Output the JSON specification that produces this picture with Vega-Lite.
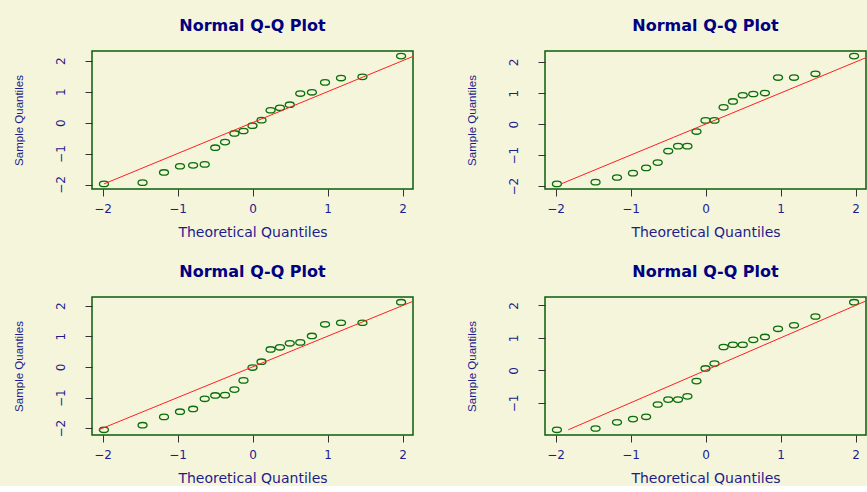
{
  "$schema": "https://vega.github.io/schema/vega-lite/v6.json",
  "padding": {"left": 12, "top": 17, "right": 0, "bottom": 0},
  "background": "#f5f5dc",
  "columns": 2,
  "bounds": "flush",
  "spacing": {"row": 108, "column": 132},
  "datasets": {
    "pts": [
      {"p":1,"x":-1.981,"y":-1.98},{"p":1,"x":-1.466,"y":-1.94},{"p":1,"x":-1.18,"y":-1.61},{"p":1,"x":-0.967,"y":-1.41},{"p":1,"x":-0.792,"y":-1.38},{"p":1,"x":-0.637,"y":-1.35},{"p":1,"x":-0.497,"y":-0.81},{"p":1,"x":-0.366,"y":-0.63},{"p":1,"x":-0.241,"y":-0.35},{"p":1,"x":-0.12,"y":-0.27},{"p":1,"x":0,"y":-0.1},{"p":1,"x":0.12,"y":0.08},{"p":1,"x":0.241,"y":0.4},{"p":1,"x":0.366,"y":0.48},{"p":1,"x":0.497,"y":0.58},{"p":1,"x":0.637,"y":0.94},{"p":1,"x":0.792,"y":0.98},{"p":1,"x":0.967,"y":1.3},{"p":1,"x":1.18,"y":1.44},{"p":1,"x":1.466,"y":1.48},{"p":1,"x":1.981,"y":2.15},
      {"p":2,"x":-1.981,"y":-1.925},{"p":2,"x":-1.466,"y":-1.87},{"p":2,"x":-1.18,"y":-1.72},{"p":2,"x":-0.967,"y":-1.58},{"p":2,"x":-0.792,"y":-1.41},{"p":2,"x":-0.637,"y":-1.24},{"p":2,"x":-0.497,"y":-0.87},{"p":2,"x":-0.366,"y":-0.71},{"p":2,"x":-0.241,"y":-0.71},{"p":2,"x":-0.12,"y":-0.24},{"p":2,"x":0,"y":0.12},{"p":2,"x":0.12,"y":0.12},{"p":2,"x":0.241,"y":0.54},{"p":2,"x":0.366,"y":0.73},{"p":2,"x":0.497,"y":0.93},{"p":2,"x":0.637,"y":0.97},{"p":2,"x":0.792,"y":1.0},{"p":2,"x":0.967,"y":1.5},{"p":2,"x":1.18,"y":1.5},{"p":2,"x":1.466,"y":1.62},{"p":2,"x":1.981,"y":2.19},
      {"p":3,"x":-1.981,"y":-2.05},{"p":3,"x":-1.466,"y":-1.9},{"p":3,"x":-1.18,"y":-1.63},{"p":3,"x":-0.967,"y":-1.46},{"p":3,"x":-0.792,"y":-1.37},{"p":3,"x":-0.637,"y":-1.04},{"p":3,"x":-0.497,"y":-0.93},{"p":3,"x":-0.366,"y":-0.92},{"p":3,"x":-0.241,"y":-0.74},{"p":3,"x":-0.12,"y":-0.44},{"p":3,"x":0,"y":-0.02},{"p":3,"x":0.12,"y":0.17},{"p":3,"x":0.241,"y":0.57},{"p":3,"x":0.366,"y":0.64},{"p":3,"x":0.497,"y":0.77},{"p":3,"x":0.637,"y":0.8},{"p":3,"x":0.792,"y":1.01},{"p":3,"x":0.967,"y":1.39},{"p":3,"x":1.18,"y":1.44},{"p":3,"x":1.466,"y":1.44},{"p":3,"x":1.981,"y":2.11},
      {"p":4,"x":-1.981,"y":-1.83},{"p":4,"x":-1.466,"y":-1.79},{"p":4,"x":-1.18,"y":-1.6},{"p":4,"x":-0.967,"y":-1.5},{"p":4,"x":-0.792,"y":-1.43},{"p":4,"x":-0.637,"y":-1.05},{"p":4,"x":-0.497,"y":-0.9},{"p":4,"x":-0.366,"y":-0.9},{"p":4,"x":-0.241,"y":-0.8},{"p":4,"x":-0.12,"y":-0.33},{"p":4,"x":0,"y":0.06},{"p":4,"x":0.12,"y":0.21},{"p":4,"x":0.241,"y":0.72},{"p":4,"x":0.366,"y":0.79},{"p":4,"x":0.497,"y":0.79},{"p":4,"x":0.637,"y":0.94},{"p":4,"x":0.792,"y":1.03},{"p":4,"x":0.967,"y":1.28},{"p":4,"x":1.18,"y":1.39},{"p":4,"x":1.466,"y":1.66},{"p":4,"x":1.981,"y":2.1}
    ],
    "ln": [
      {"p":1,"x":-1.98,"y":-1.98},{"p":1,"x":2.4,"y":2.4},
      {"p":2,"x":-1.93,"y":-1.93},{"p":2,"x":2.4,"y":2.4},
      {"p":3,"x":-2.05,"y":-2.05},{"p":3,"x":2.4,"y":2.4},
      {"p":4,"x":-1.83,"y":-1.83},{"p":4,"x":2.4,"y":2.4}
    ]
  },
  "concat": [
    {
      "title": "Normal Q-Q Plot", "width": 321, "height": 138,
      "encoding": {
        "x": {"field": "x", "type": "quantitative", "scale": {"domain": [-2.14, 2.14], "nice": false, "zero": false}, "axis": {"title": "Theoretical Quantiles", "values": [-2, -1, 0, 1, 2], "format": "d"}},
        "y": {"field": "y", "type": "quantitative", "scale": {"domain": [-2.145, 2.315], "nice": false, "zero": false}, "axis": {"title": "Sample Quantiles", "values": [-2, -1, 0, 1, 2], "format": "d"}}
      },
      "layer": [
        {"data": {"name": "pts"}, "transform": [{"filter": "datum.p == 1"}],
         "mark": {"type": "point", "shape": "M-1,0A1,0.6,0,1,1,1,0A1,0.6,0,1,1,-1,0Z", "size": 81, "strokeWidth": 1.3, "color": "#0a6e0a", "filled": false, "opacity": 1}},
        {"data": {"name": "ln"}, "transform": [{"filter": "datum.p == 1"}],
         "mark": {"type": "line", "color": "#ff2020", "strokeWidth": 1, "clip": true}}
      ]
    },
    {
      "title": "Normal Q-Q Plot", "width": 321, "height": 138,
      "encoding": {
        "x": {"field": "x", "type": "quantitative", "scale": {"domain": [-2.14, 2.14], "nice": false, "zero": false}, "axis": {"title": "Theoretical Quantiles", "values": [-2, -1, 0, 1, 2], "format": "d"}},
        "y": {"field": "y", "type": "quantitative", "scale": {"domain": [-2.09, 2.355], "nice": false, "zero": false}, "axis": {"title": "Sample Quantiles", "values": [-2, -1, 0, 1, 2], "format": "d"}}
      },
      "layer": [
        {"data": {"name": "pts"}, "transform": [{"filter": "datum.p == 2"}],
         "mark": {"type": "point", "shape": "M-1,0A1,0.6,0,1,1,1,0A1,0.6,0,1,1,-1,0Z", "size": 81, "strokeWidth": 1.3, "color": "#0a6e0a", "filled": false, "opacity": 1}},
        {"data": {"name": "ln"}, "transform": [{"filter": "datum.p == 2"}],
         "mark": {"type": "line", "color": "#ff2020", "strokeWidth": 1, "clip": true}}
      ]
    },
    {
      "title": "Normal Q-Q Plot", "width": 321, "height": 138,
      "encoding": {
        "x": {"field": "x", "type": "quantitative", "scale": {"domain": [-2.14, 2.14], "nice": false, "zero": false}, "axis": {"title": "Theoretical Quantiles", "values": [-2, -1, 0, 1, 2], "format": "d"}},
        "y": {"field": "y", "type": "quantitative", "scale": {"domain": [-2.22, 2.28], "nice": false, "zero": false}, "axis": {"title": "Sample Quantiles", "values": [-2, -1, 0, 1, 2], "format": "d"}}
      },
      "layer": [
        {"data": {"name": "pts"}, "transform": [{"filter": "datum.p == 3"}],
         "mark": {"type": "point", "shape": "M-1,0A1,0.6,0,1,1,1,0A1,0.6,0,1,1,-1,0Z", "size": 81, "strokeWidth": 1.3, "color": "#0a6e0a", "filled": false, "opacity": 1}},
        {"data": {"name": "ln"}, "transform": [{"filter": "datum.p == 3"}],
         "mark": {"type": "line", "color": "#ff2020", "strokeWidth": 1, "clip": true}}
      ]
    },
    {
      "title": "Normal Q-Q Plot", "width": 321, "height": 138,
      "encoding": {
        "x": {"field": "x", "type": "quantitative", "scale": {"domain": [-2.14, 2.14], "nice": false, "zero": false}, "axis": {"title": "Theoretical Quantiles", "values": [-2, -1, 0, 1, 2], "format": "d"}},
        "y": {"field": "y", "type": "quantitative", "scale": {"domain": [-1.99, 2.26], "nice": false, "zero": false}, "axis": {"title": "Sample Quantiles", "values": [-1, 0, 1, 2], "format": "d"}}
      },
      "layer": [
        {"data": {"name": "pts"}, "transform": [{"filter": "datum.p == 4"}],
         "mark": {"type": "point", "shape": "M-1,0A1,0.6,0,1,1,1,0A1,0.6,0,1,1,-1,0Z", "size": 81, "strokeWidth": 1.3, "color": "#0a6e0a", "filled": false, "opacity": 1}},
        {"data": {"name": "ln"}, "transform": [{"filter": "datum.p == 4"}],
         "mark": {"type": "line", "color": "#ff2020", "strokeWidth": 1, "clip": true}}
      ]
    }
  ],
  "config": {
    "view": {"stroke": "#0a5e0a", "strokeWidth": 1.5},
    "axis": {"grid": false, "domain": false, "tickColor": "#333333", "tickSize": 7, "labelColor": "#1c1c8c", "titleColor": "#1c1c8c", "labelFont": "DejaVu Sans", "titleFont": "DejaVu Sans", "labelFontSize": 12, "titleFontWeight": "normal", "labelOverlap": false, "labelFlush": false},
    "axisX": {"labelPadding": 7, "titleFontSize": 14, "titleY": 47, "titleBaseline": "alphabetic"},
    "axisY": {"labelAngle": 270, "labelAlign": "center", "labelBaseline": "bottom", "labelPadding": 18, "titleAngle": 270, "titleX": -70, "titleY": 69, "titleAlign": "center", "titleBaseline": "alphabetic", "titleFont": "Liberation Sans", "titleFontSize": 11.5},
    "title": {"font": "DejaVu Sans", "fontSize": 16, "fontWeight": "bold", "color": "#000080", "offset": 17, "baseline": "alphabetic"}
  }
}
